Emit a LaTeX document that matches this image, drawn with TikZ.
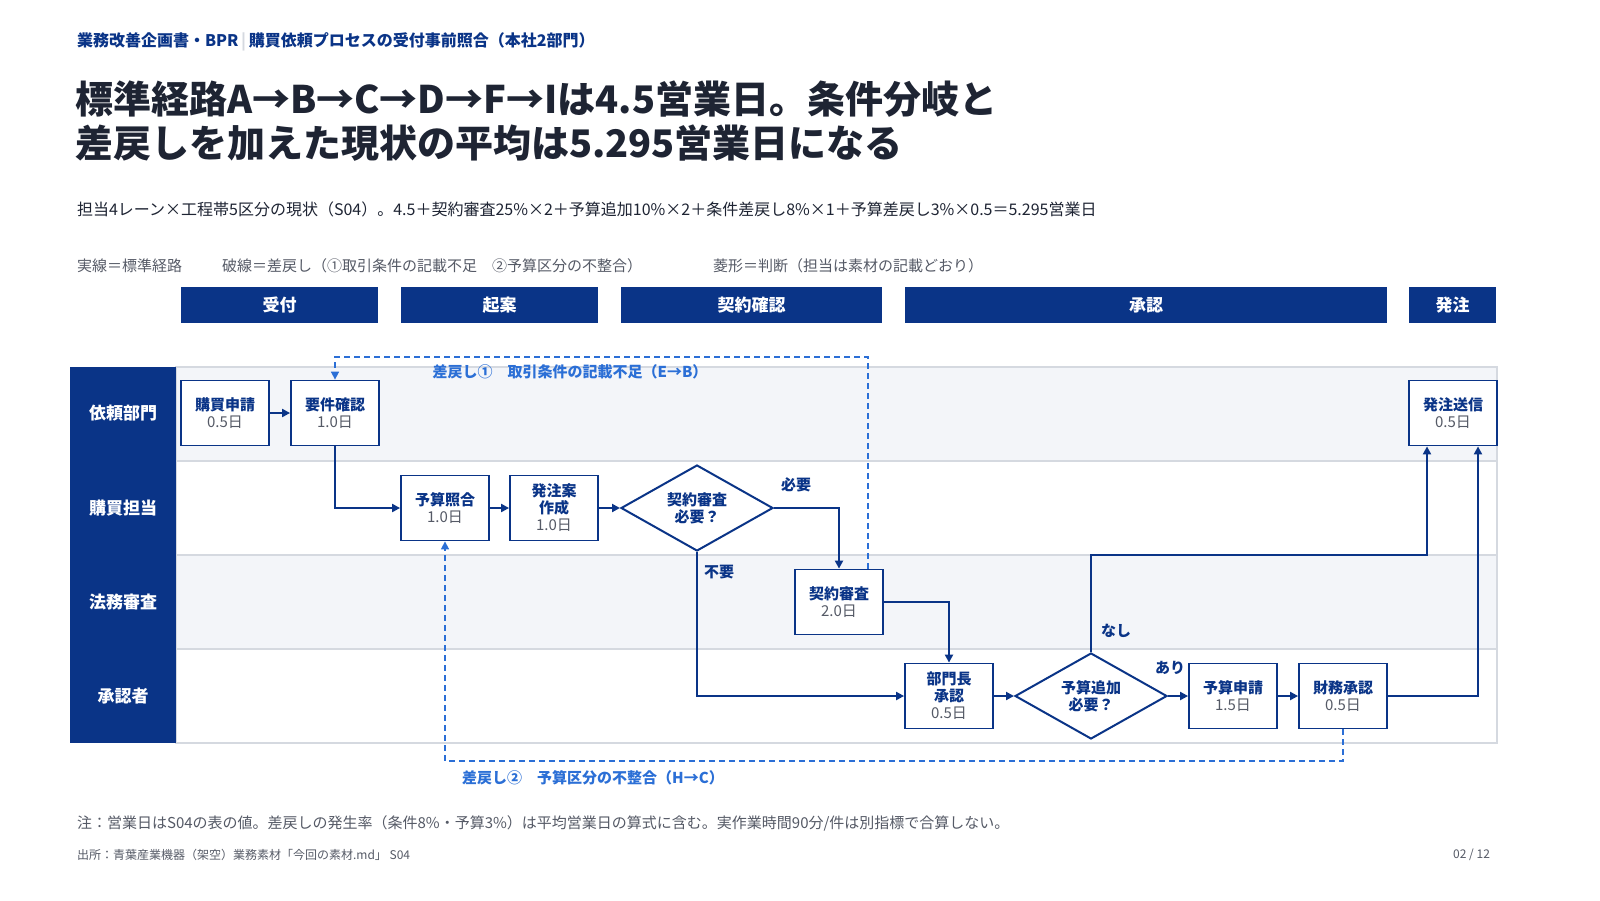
\documentclass[tikz,border=0pt]{standalone}
\usepackage{fontspec}
\setmainfont{Noto Sans CJK JP}
\usetikzlibrary{shapes.geometric,arrows.meta}
\definecolor{navy}{HTML}{0A3487}
\definecolor{dash}{HTML}{2B6FD6}
\definecolor{ink}{HTML}{1E2433}
\definecolor{gr}{HTML}{555A66}
\definecolor{lanebg}{HTML}{F3F5F9}
\definecolor{lineg}{HTML}{D5D9E0}
\newcommand{\dy}[1]{\textcolor{gr}{\mdseries #1}}
\begin{document}
\begin{tikzpicture}[x=0.5pt,y=-0.5pt,
 box/.style={draw=navy,line width=0.9pt,fill=white,minimum width=44pt,minimum height=32.5pt,align=center,inner sep=1pt,text=navy,font=\fontsize{7.5}{8.5}\selectfont\bfseries},
 dia/.style={diamond,aspect=1.77,draw=navy,line width=1pt,fill=white,minimum width=76pt,minimum height=43pt,inner sep=0pt,align=center,font=\fontsize{7.5}{8.5}\selectfont\bfseries,text=navy},
 flow/.style={draw=navy,line width=1pt,-{Triangle[length=4pt,width=4pt]}},
 back/.style={draw=dash,line width=0.8pt,dash pattern=on 3pt off 2pt,-{Triangle[length=4pt,width=4pt]}},
 phase/.style={text=white,font=\fontsize{8.5}{9}\selectfont\bfseries,anchor=center},
 lane/.style={text=white,font=\fontsize{8.5}{9}\selectfont\bfseries},
 lbl/.style={text=navy,font=\fontsize{7.5}{8}\selectfont\bfseries},
 dlbl/.style={text=dash,font=\fontsize{7.5}{8}\selectfont\bfseries}]
\useasboundingbox (0,0) rectangle (1600,900);
\fill[white] (0,0) rectangle (1600,900);
% header
\node[anchor=west,text=navy,font=\fontsize{8}{9}\selectfont\bfseries] (hd) at (70,42) {業務改善企画書・BPR\,\textcolor{lineg}{|}\,購買依頼プロセスの受付事前照合（本社2部門）};
\node[anchor=west,text=ink,font=\fontsize{19}{22}\selectfont\bfseries,align=left] (title) at (68,121) {標準経路A→B→C→D→F→Iは4.5営業日。条件分岐と\\差戻しを加えた現状の平均は5.295営業日になる};
\node[anchor=west,text=ink,font=\fontsize{8}{9}\selectfont] (sub) at (70,209) {担当4レーン×工程帯5区分の現状（S04）。4.5＋契約審査25\%×2＋予算追加10\%×2＋条件差戻し8\%×1＋予算差戻し3\%×0.5＝5.295営業日};
\node[anchor=west,text=gr,font=\fontsize{7.5}{8}\selectfont] (lg1) at (70,266) {実線＝標準経路};
\node[anchor=west,text=gr,font=\fontsize{7.5}{8}\selectfont] (lg2) at (215,266) {破線＝差戻し（①取引条件の記載不足\quad ②予算区分の不整合）};
\node[anchor=west,text=gr,font=\fontsize{7.5}{8}\selectfont] (lg3) at (706,266) {菱形＝判断（担当は素材の記載どおり）};
% phases
\fill[navy] (181,287) rectangle (378,323); \node[phase] (p1) at (279.5,305) {受付};
\fill[navy] (401,287) rectangle (598,323); \node[phase] (p2) at (499.5,305) {起案};
\fill[navy] (621,287) rectangle (882,323); \node[phase] (p3) at (751.5,305) {契約確認};
\fill[navy] (905,287) rectangle (1387,323); \node[phase] (p4) at (1146,305) {承認};
\fill[navy] (1409,287) rectangle (1496,323); \node[phase] (p5) at (1452.5,305) {発注};
% lanes
\fill[lanebg] (176,367) rectangle (1497,461);
\fill[lanebg] (176,555) rectangle (1497,649);
\draw[lineg,line width=0.6pt] (176,367) rectangle (1497,743);
\foreach \y in {461,555,649} \draw[lineg,line width=0.6pt] (176,\y) -- (1497,\y);
\fill[navy] (70,367) rectangle (176,743);
\node[lane] (l1) at (123,413) {依頼部門};
\node[lane] (l2) at (123,508) {購買担当};
\node[lane] (l3) at (123,602) {法務審査};
\node[lane] (l4) at (123,696) {承認者};
% nodes
\node[box] (A) at (225,413) {購買申請\\\dy{0.5日}};
\node[box] (B) at (335,413) {要件確認\\\dy{1.0日}};
\node[box] (C) at (445,508) {予算照合\\\dy{1.0日}};
\node[box] (D) at (554,508) {発注案\\作成\\\dy{1.0日}};
\node[dia] (Q1) at (697,508) {契約審査\\必要？};
\node[box] (E) at (839,602) {契約審査\\\dy{2.0日}};
\node[box] (F) at (949,696) {部門長\\承認\\\dy{0.5日}};
\node[dia] (Q2) at (1091,696) {予算追加\\必要？};
\node[box] (G) at (1233,696) {予算申請\\\dy{1.5日}};
\node[box] (H) at (1343,696) {財務承認\\\dy{0.5日}};
\node[box] (I) at (1453,413) {発注送信\\\dy{0.5日}};
% flows
\draw[flow] (A) -- (B);
\draw[flow] (B.south) |- (C.west);
\draw[flow] (C) -- (D);
\draw[flow] (D) -- (Q1);
\draw[flow] (Q1.east) -| (E.north);
\draw[flow] (Q1.south) |- (F.west);
\draw[flow] (E.east) -| (F.north);
\draw[flow] (F) -- (Q2);
\draw[flow] (Q2) -- (G);
\draw[flow] (G) -- (H);
\coordinate (n1) at (1091,555);
\coordinate (n2) at (1427,555);
\draw[flow] (Q2.north) -- (n1) -- (n2) -- (I.south -| n2);
\coordinate (h1) at (1478,696);
\draw[flow] (H.east) -- (h1) -- (I.south -| h1);
\node[lbl] (t1) at (796,485) {必要};
\node[lbl] (t2) at (719,572) {不要};
\node[lbl] (t3) at (1116,631) {なし};
\node[lbl] (t4) at (1170,668) {あり};
% returns
\coordinate (r1) at (868,357);
\coordinate (r2) at (335,357);
\draw[back] (E.north -| r1) -- (r1) -- (r2) -- (B.north);
\node[dlbl] (t5) at (570,372) {差戻し①\quad 取引条件の記載不足（E→B）};
\coordinate (r3) at (1343,761);
\coordinate (r4) at (445,761);
\draw[back] (H.south) -- (r3) -- (r4) -- (C.south);
\node[dlbl] (t6) at (593,778) {差戻し②\quad 予算区分の不整合（H→C）};
% footer
\node[anchor=west,text=gr,font=\fontsize{7.5}{8}\selectfont] (n) at (70,823) {注：営業日はS04の表の値。差戻しの発生率（条件8\%・予算3\%）は平均営業日の算式に含む。実作業時間90分/件は別指標で合算しない。};
\node[anchor=west,text=gr,font=\fontsize{6}{7}\selectfont] (src) at (70,855) {出所：青葉産業機器（架空）業務素材「今回の素材.md」 S04};
\node[anchor=east,text=gr,font=\fontsize{6}{7}\selectfont] (pg) at (1497,855) {02 / 12};
\end{tikzpicture}
\end{document}
